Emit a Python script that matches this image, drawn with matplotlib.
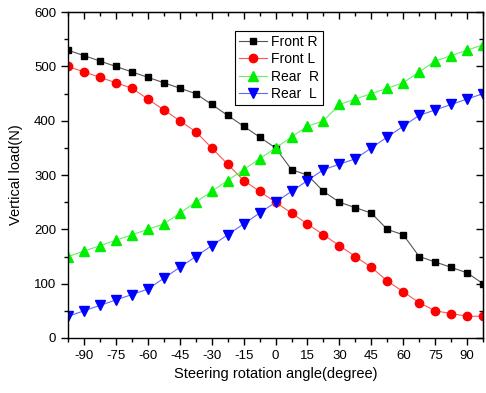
import numpy as np
import matplotlib
matplotlib.use("Agg")
from matplotlib import pyplot as plt
from matplotlib.ticker import MultipleLocator

plt.rcParams['font.family'] = ['Liberation Sans', 'DejaVu Sans']
plt.rcParams['axes.unicode_minus'] = False

# steering angle, degrees (one point every 7.5 deg)
angle = np.arange(-97.5, 97.6, 7.5)

front_r = [530, 520, 510, 500, 490, 480, 470, 460, 450, 430, 410, 390, 370,
           350, 310, 300, 270, 250, 240, 230, 200, 190, 150, 140, 130, 120, 100]
front_l = [500, 490, 480, 470, 460, 440, 420, 400, 380, 350, 320, 290, 270,
           250, 230, 210, 190, 170, 150, 130, 105, 85, 65, 50, 45, 40, 40]
rear_r = [150, 160, 170, 180, 190, 200, 210, 230, 250, 270, 290, 310, 330,
          350, 370, 390, 400, 430, 440, 450, 460, 470, 490, 510, 520, 530, 540]
rear_l = [40, 50, 60, 70, 80, 90, 110, 130, 150, 170, 190, 210, 230,
          250, 270, 290, 310, 320, 330, 350, 370, 390, 410, 420, 430, 440, 450]

fig = plt.figure(figsize=(4.86, 3.93), dpi=100)
ax = fig.add_axes([0.140, 0.140, 0.854, 0.829])

ax.plot(angle, front_r, color='#555555', lw=0.8, marker='s', ms=5,
        mfc='black', mec='black', label='Front R')
ax.plot(angle, front_l, color='#ff5555', lw=0.8, marker='o', ms=6,
        mfc='red', mec='red', label='Front L')
ax.plot(angle, rear_r, color='#66ee66', lw=0.8, marker='^', ms=6.5,
        mfc='#00ee00', mec='#00ee00', label='Rear  R')
ax.plot(angle, rear_l, color='#6666ff', lw=0.8, marker='v', ms=6.5,
        mfc='blue', mec='blue', label='Rear  L')

ax.set_xlim(-97.5, 97.5)
ax.set_ylim(0, 600)
ax.xaxis.set_major_locator(MultipleLocator(15))
ax.xaxis.set_minor_locator(MultipleLocator(7.5))
ax.yaxis.set_major_locator(MultipleLocator(100))
ax.yaxis.set_minor_locator(MultipleLocator(50))
ax.set_xticks(np.arange(-90, 91, 15))
ax.tick_params(which='major', direction='out', length=5, width=1, labelsize=9.5)
ax.tick_params(which='minor', direction='out', length=3, width=1)

top = ax.secondary_xaxis('top')
top.xaxis.set_major_locator(MultipleLocator(15))
top.xaxis.set_minor_locator(MultipleLocator(7.5))
top.tick_params(which='major', direction='in', length=5, width=1, labeltop=False)
top.tick_params(which='minor', direction='in', length=3, width=1)
right = ax.secondary_yaxis('right')
right.yaxis.set_major_locator(MultipleLocator(100))
right.yaxis.set_minor_locator(MultipleLocator(50))
right.tick_params(which='major', direction='in', length=5, width=1, labelright=False)
right.tick_params(which='minor', direction='in', length=3, width=1)

for s in ax.spines.values():
    s.set_linewidth(1.0)

ax.set_xlabel("Steering rotation angle(degree)", fontsize=10.5)
ax.set_ylabel("Vertical load(N)", fontsize=10.5, labelpad=8)

leg = ax.legend(loc='upper left', bbox_to_anchor=(0.385, 0.965), fontsize=10,
                fancybox=False, edgecolor='black', framealpha=1,
                handlelength=2.0, borderpad=0.3, labelspacing=0.25,
                handletextpad=0.3)
leg.get_frame().set_linewidth(0.8)

fig.savefig("out.png", dpi=100)
